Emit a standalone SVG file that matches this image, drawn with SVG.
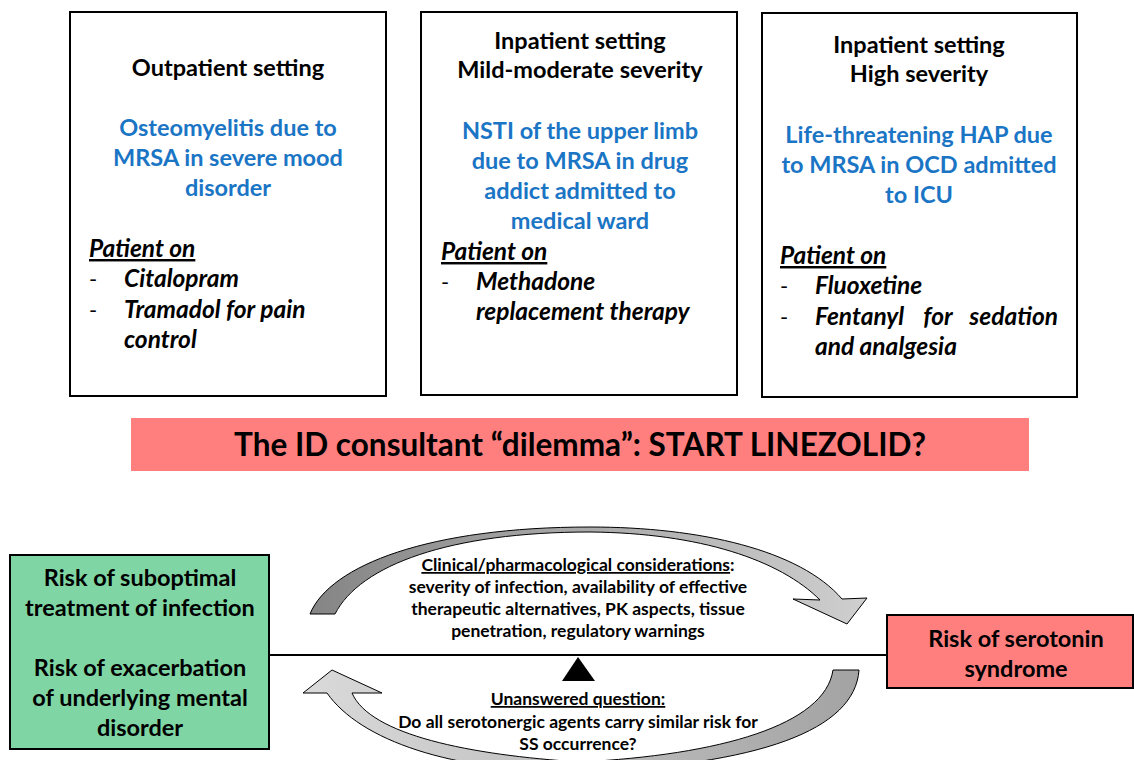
<svg xmlns="http://www.w3.org/2000/svg" width="1134" height="760" viewBox="0 0 1134 760">
<defs>
<style>
.box{fill:#fff;stroke:#000;stroke-width:2}
.t{font-family:Lato,"Open Sans","Liberation Sans",sans-serif;font-weight:bold;fill:#000}
.h{font-size:23.5px;text-anchor:middle}
.b{font-size:23.5px;text-anchor:middle;fill:#1b75c5}
.i{font-size:24.5px;font-style:italic}
.d{font-size:22px;font-weight:normal}
.u{text-decoration:underline}
.m{font-size:17.5px;text-anchor:middle}
.big{font-size:31.5px;text-anchor:middle}
.g{font-size:23.5px;text-anchor:middle}
.arr{stroke:#000;stroke-width:1}
</style>
<linearGradient id="gTop" x1="0" y1="0" x2="1" y2="0">
<stop offset="0" stop-color="#858585"/>
<stop offset="1" stop-color="#cfcfcf"/>
</linearGradient>
<linearGradient id="gBot" x1="0" y1="0" x2="1" y2="0">
<stop offset="0" stop-color="#dadada"/>
<stop offset="1" stop-color="#a3a3a3"/>
</linearGradient>
</defs>
<rect width="1134" height="760" fill="#fff"/>

<g id="box-outpatient">
<rect class="box" x="70" y="12" width="316" height="384"/>
<text class="t h" x="228" y="76">Outpatient setting</text>
<text class="t b" x="228" y="136">Osteomyelitis due to</text>
<text class="t b" x="228" y="166">MRSA in severe mood</text>
<text class="t b" x="228" y="196">disorder</text>
<text class="t i u" x="89" y="257">Patient on</text>
<text class="t d" x="89" y="287">-</text>
<text class="t i" x="124" y="287">Citalopram</text>
<text class="t d" x="89" y="318">-</text>
<text class="t i" x="124" y="318">Tramadol for pain</text>
<text class="t i" x="124" y="348">control</text>
</g>

<g id="box-inpatient-mild">
<rect class="box" x="421" y="12" width="316" height="383"/>
<text class="t h" x="580" y="49">Inpatient setting</text>
<text class="t h" x="580" y="78">Mild-moderate severity</text>
<text class="t b" x="580" y="139">NSTI of the upper limb</text>
<text class="t b" x="580" y="169">due to MRSA in drug</text>
<text class="t b" x="580" y="199">addict admitted to</text>
<text class="t b" x="580" y="229">medical ward</text>
<text class="t i u" x="441" y="260">Patient on</text>
<text class="t d" x="441" y="290">-</text>
<text class="t i" x="476" y="290">Methadone</text>
<text class="t i" x="476" y="320">replacement therapy</text>
</g>

<g id="box-inpatient-high">
<rect class="box" x="762" y="13" width="315" height="384"/>
<text class="t h" x="919" y="53">Inpatient setting</text>
<text class="t h" x="919" y="82">High severity</text>
<text class="t b" x="919" y="143">Life-threatening HAP due</text>
<text class="t b" x="919" y="173">to MRSA in OCD admitted</text>
<text class="t b" x="919" y="203">to ICU</text>
<text class="t i u" x="780" y="264">Patient on</text>
<text class="t d" x="780" y="294">-</text>
<text class="t i" x="815" y="294">Fluoxetine</text>
<text class="t d" x="780" y="325">-</text>
<text class="t i" x="815" y="325">Fentanyl</text>
<text class="t i" x="938" y="325" text-anchor="middle">for</text>
<text class="t i" x="1058" y="325" text-anchor="end">sedation</text>
<text class="t i" x="815" y="355">and analgesia</text>
</g>

<g id="banner">
<rect x="131" y="418" width="898" height="53" fill="#ff7f7f"/>
<text class="t big" x="580" y="456">The ID consultant “dilemma”: START LINEZOLID?</text>
</g>

<g id="connectors">
<line x1="269" y1="655" x2="887" y2="655" stroke="#000" stroke-width="2"/>
<polygon points="578,657 562,681 595,681" fill="#000"/>
<path class="arr" fill="url(#gTop)" d="M310,614 C330,565 430,527 590,527 C700,527 800,550 842,599 L867,598 L847,624 L793,599 L820,600 C780,560 700,533 590,532 C450,532 360,565 335,614 Z"/>
<path class="arr" fill="url(#gBot)" d="M859,670 C855,730 760,765 580,772 C450,772 360,740 327,693 L303,693 L332,670 L382,693 L352,693 C370,735 470,755 580,762 C720,755 825,725 833,670 Z"/>
</g>

<g id="mid-text">
<text class="t m" x="578" y="571"><tspan class="u">Clinical/pharmacological considerations</tspan>:</text>
<text class="t m" x="578" y="593">severity of infection, availability of effective</text>
<text class="t m" x="578" y="615">therapeutic alternatives, PK aspects, tissue</text>
<text class="t m" x="578" y="637">penetration, regulatory warnings</text>
<text class="t m u" x="578" y="705">Unanswered question:</text>
<text class="t m" x="578" y="728">Do all serotonergic agents carry similar risk for</text>
<text class="t m" x="578" y="750">SS occurrence?</text>
</g>

<g id="node-risk-infection">
<rect x="10" y="555" width="259" height="194" fill="#7fd6a4" stroke="#000" stroke-width="2"/>
<text class="t g" x="140" y="586">Risk of suboptimal</text>
<text class="t g" x="140" y="616">treatment of infection</text>
<text class="t g" x="140" y="676">Risk of exacerbation</text>
<text class="t g" x="140" y="706">of underlying mental</text>
<text class="t g" x="140" y="736">disorder</text>
</g>

<g id="node-risk-ss">
<rect x="887" y="615" width="246" height="73" fill="#ff7f7f" stroke="#000" stroke-width="2"/>
<text class="t g" x="1016" y="647">Risk of serotonin</text>
<text class="t g" x="1016" y="677">syndrome</text>
</g>
</svg>
